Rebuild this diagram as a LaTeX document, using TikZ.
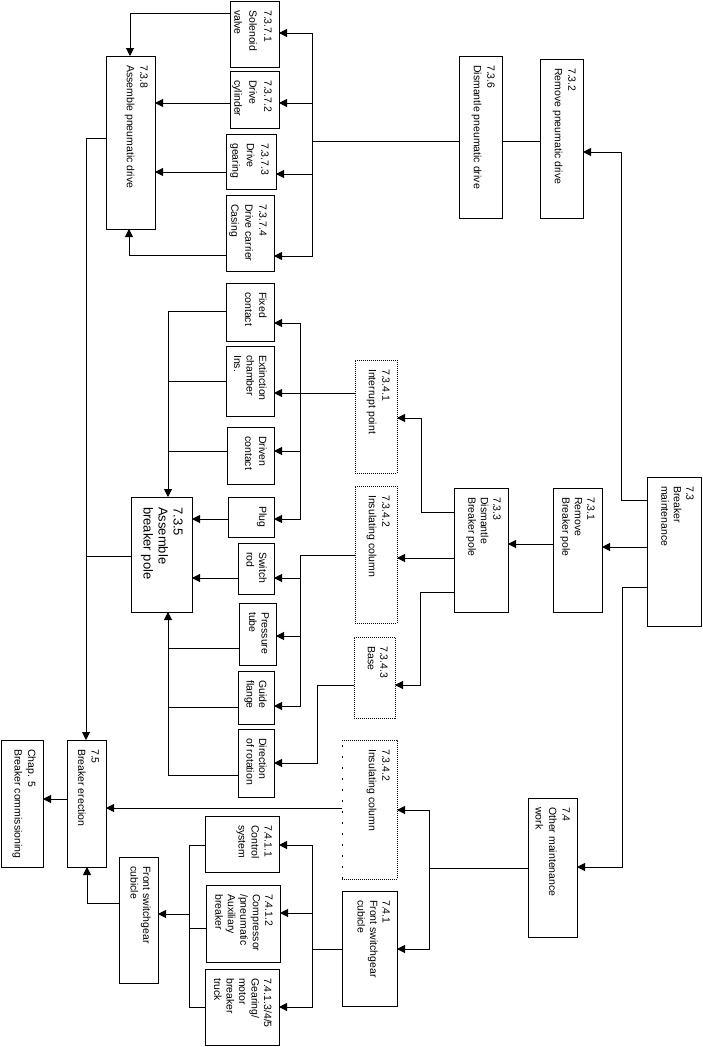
\documentclass[tikz,border=0pt]{standalone}
\usepackage{fontspec}
\setmainfont{Liberation Sans}
\usetikzlibrary{arrows.meta}
\newcommand\mybox[6]{\node[#6, minimum width={#4-#2}, minimum height={#5-#3}] (#1) at ({(#2+#4)/2},{(#3+#5)/2}) {};}
\newcommand\mytext[3][]{\node[txt,#1] at ([xshift=-7pt,yshift=-9pt]#2.north east) {#3};}
\tikzset{
  box/.style={draw, line width=1pt, inner sep=0pt, outer sep=0pt, rectangle},
  dbox/.style={draw, line width=1pt, dash pattern=on 1pt off 1pt, inner sep=0pt, outer sep=0pt, rectangle},
  nbox/.style={draw=none, inner sep=0pt, outer sep=0pt, rectangle},
  txt/.style={rotate=-90, anchor=north west, align=left, inner sep=0pt, font=\fontsize{10.5}{13.5}\selectfont},
  ln/.style={line width=1pt},
  arr/.style={line width=1pt, -{Triangle[length=8pt,width=8pt]}}
}
\begin{document}
\begin{tikzpicture}[x=1pt,y=-1pt]
\fill[white] (0,0) rectangle (702,1047);
\useasboundingbox (0,0) rectangle (702,1047);
% boxes
\mybox{n3701}{230}{1}{279}{67}{box}
\mybox{n3702}{230}{71}{279}{128}{box}
\mybox{n3703}{226}{134}{276}{189}{box}
\mybox{n3704}{226}{195}{274}{271}{box}
\mybox{n308}{106}{56}{155}{229}{box}
\mybox{n736}{459}{56}{502}{218}{box}
\mybox{n732}{540}{59}{583}{218}{box}
\mybox{n73}{647}{477}{701}{626}{box}
\mybox{n731}{553}{488}{602}{612}{box}
\mybox{n733}{454}{488}{508}{612}{box}
\mybox{nfix}{226}{283}{274}{341}{box}
\mybox{next}{226}{346}{274}{416}{box}
\mybox{ndrv}{227}{427}{274}{484}{box}
\mybox{nplug}{228}{497}{274}{537}{box}
\mybox{nsw}{238}{543}{274}{594}{box}
\mybox{n735}{131}{497}{192}{612}{box}
\mybox{n3441}{355}{360}{397}{473}{dbox}
\mybox{n3442}{355}{486}{397}{623}{dbox}
\mybox{n3443}{354}{637}{395}{718}{dbox}
\mybox{npres}{239}{603}{276}{665}{box}
\mybox{nguide}{238}{671}{274}{724}{box}
\mybox{ndir}{238}{729}{274}{797}{box}
\mybox{n3442b}{342}{740}{397}{879}{nbox}
\mybox{nchap}{1}{740}{43}{867}{box}
\mybox{n75}{67}{740}{106}{867}{box}
\mybox{n7411}{205}{816}{279}{872}{box}
\mybox{n7412}{206}{885}{280}{962}{box}
\mybox{n7413}{205}{969}{279}{1045}{box}
\mybox{nfront}{119}{857}{158}{983}{box}
\mybox{n741}{342}{891}{397}{1006}{box}
\mybox{n74}{528}{798}{577}{937}{box}
\draw[line width=1pt, dash pattern=on 2pt off 9pt] (n3442b.south west) -- (n3442b.north west);
\draw[line width=1pt, dash pattern=on 1pt off 1pt] (n3442b.north west) -- (n3442b.north east) -- (n3442b.south east) -- (n3442b.south west);
% texts
\mytext[font=\fontsize{10.5}{15}\selectfont]{n3701}{7.3.7.1\\Solenoid\\valve}
\mytext[font=\fontsize{10.5}{15}\selectfont]{n3702}{7.3.7.2\\Drive\\cylinder}
\mytext[font=\fontsize{10.5}{14.5}\selectfont]{n3703}{7.3.7.3\\Drive\\gearing}
\mytext[font=\fontsize{10.5}{14}\selectfont]{n3704}{7.3.7.4\\Drive carrier\\Casing}
\mytext{n308}{7.3.8\\Assemble pneumatic drive}
\mytext{n736}{7.3.6\\Dismantle pneumatic drive}
\mytext{n732}{7.3.2\\Remove pneumatic drive}
\mytext[font=\fontsize{10.5}{12.5}\selectfont]{n73}{7.3\\Breaker\\maintenance}
\mytext[font=\fontsize{10.5}{12.5}\selectfont]{n731}{7.3.1\\Remove\\Breaker pole}
\mytext[font=\fontsize{10.5}{12.5}\selectfont]{n733}{7.3.3\\Dismantle\\Breaker pole}
\mytext[font=\fontsize{10.5}{14}\selectfont]{nfix}{Fixed\\contact}
\mytext[font=\fontsize{10.5}{12.5}\selectfont]{next}{Extinction\\chamber\\Ins.}
\mytext[font=\fontsize{10.5}{14}\selectfont]{ndrv}{Driven\\contact}
\mytext{nplug}{Plug}
\mytext[font=\fontsize{10.5}{12.5}\selectfont]{nsw}{Switch\\rod}
\node[txt, font=\fontsize{13}{15}\selectfont] at ([xshift=-9pt,yshift=-10pt]n735.north east) {7.3.5\\Assemble\\breaker pole};
\mytext{n3441}{7.3.4.1\\Interrupt point}
\mytext{n3442}{7.3.4.2\\Insulating column}
\mytext[font=\fontsize{10.5}{12.5}\selectfont]{n3443}{7.3.4.3\\Base}
\mytext[font=\fontsize{10.5}{12.5}\selectfont]{npres}{Pressure\\tube}
\mytext[font=\fontsize{10.5}{12.5}\selectfont]{nguide}{Guide\\flange}
\mytext[font=\fontsize{10.5}{12.5}\selectfont]{ndir}{Direction\\of rotation}
\mytext{n3442b}{7.3.4.2\\Insulating column}
\mytext{nchap}{Chap. 5\\Breaker commissioning}
\mytext{n75}{7.5\\Breaker erection}
\mytext[font=\fontsize{10.5}{13}\selectfont]{n7411}{7.4.1.1\\Control\\system}
\mytext[font=\fontsize{10.5}{12.5}\selectfont]{n7412}{7.4.1.2\\Compressor\\/pneumatic\\Auxiliary\\breaker}
\mytext[font=\fontsize{10.5}{12.5}\selectfont]{n7413}{7.4.1.3/4/5\\Gearing/\\motor\\breaker\\truck}
\mytext[font=\fontsize{10.5}{12.5}\selectfont]{nfront}{Front switchgear\\cubicle}
\mytext[font=\fontsize{10.5}{12.5}\selectfont]{n741}{7.4.1\\Front switchgear\\cubicle}
\mytext{n74}{7.4\\Other maintenance\\work}
% connectors: pneumatic drive
\draw[arr] (n73.west |- 0,500) -- (621,500) |- (n732.east |- 0,152);
\draw[ln] (n732.west |- 0,141) -- (n736.east |- 0,141);
\draw[ln] (n736.west |- 0,141) -- (312,141);
\draw[arr] (312,141) |- (n3701.east |- 0,33);
\draw[arr] (312,141) |- (n3702.east |- 0,103);
\draw[arr] (312,141) |- (n3703.east |- 0,174);
\draw[arr] (312,141) |- (n3704.east |- 0,256);
\draw[arr] (n3701.west |- 0,13) -| (n308.north -| 130,0);
\draw[arr] (n3702.west |- 0,103) -- (n308.east |- 0,103);
\draw[arr] (n3703.west |- 0,172) -- (n308.east |- 0,172);
\draw[arr] (n3704.west |- 0,255) -| (n308.south -| 129,0);
\draw[arr] (n308.west |- 0,138) -| (n75.north -| 86,0);
% breaker pole
\draw[arr] (n73.west |- 0,547) -- (n731.east |- 0,547);
\draw[arr] (n731.west |- 0,544) -- (n733.east |- 0,544);
\draw[arr] (n733.west |- 0,512) -- (421,512) |- (n3441.east |- 0,418);
\draw[arr] (n733.west |- 0,558) -- (n3442.east |- 0,558);
\draw[arr] (n733.west |- 0,592) -- (420,592) |- (n3443.east |- 0,685);
\draw[arr] (n3441.west |- 0,393) -- (next.east |- 0,393);
\draw[arr] (300,393) |- (nfix.east |- 0,323);
\draw[arr] (300,393) |- (ndrv.east |- 0,451);
\draw[arr] (300,393) |- (nplug.east |- 0,519);
\draw[arr] (nfix.west |- 0,311) -| (n735.north -| 168,0);
\draw[ln] (next.west |- 0,381) -- (168,381);
\draw[ln] (ndrv.west |- 0,451) -- (168,451);
\draw[arr] (nplug.west |- 0,519) -- (n735.east |- 0,519);
\draw[arr] (nsw.west |- 0,578) -- (n735.east |- 0,578);
\draw[ln] (n3442.west |- 0,555) -- (300,555);
\draw[arr] (300,555) |- (nsw.east |- 0,578);
\draw[arr] (300,555) |- (npres.east |- 0,636);
\draw[arr] (300,555) |- (nguide.east |- 0,706);
\draw[arr] (ndir.west |- 0,775) -| (n735.south -| 168,0);
\draw[ln] (npres.west |- 0,648) -- (168,648);
\draw[ln] (nguide.west |- 0,707) -- (168,707);
\draw[arr] (n3443.west |- 0,685) -- (317,685) |- (ndir.east |- 0,763);
\draw[ln] (n735.west |- 0,556) -- (86,556);
% other maintenance
\draw[arr] (n73.west |- 0,587) -- (622,587) |- (n74.east |- 0,867);
\draw[ln] (n74.west |- 0,868) -- (429,868);
\draw[arr] (429,868) |- (n3442b.east |- 0,810);
\draw[arr] (429,868) |- (n741.east |- 0,949);
\draw[arr] (n3442b.west |- 0,808) -- (n75.east |- 0,808);
\draw[ln] (n741.west |- 0,949) -- (312,949);
\draw[arr] (312,949) |- (n7411.east |- 0,845);
\draw[arr] (312,949) |- (n7412.east |- 0,913);
\draw[arr] (312,949) |- (n7413.east |- 0,1007);
\draw[ln] (n7411.west |- 0,845) -- (189,845) -- (189,1007) -- (n7413.west |- 0,1007);
\draw[ln] (n7412.west |- 0,928) -- (189,928);
\draw[arr] (189,914) -- (nfront.east |- 0,914);
\draw[arr] (nfront.west |- 0,903) -| (n75.south -| 87,0);
\draw[arr] (n75.west |- 0,799) -- (nchap.east |- 0,799);
\end{tikzpicture}
\end{document}
